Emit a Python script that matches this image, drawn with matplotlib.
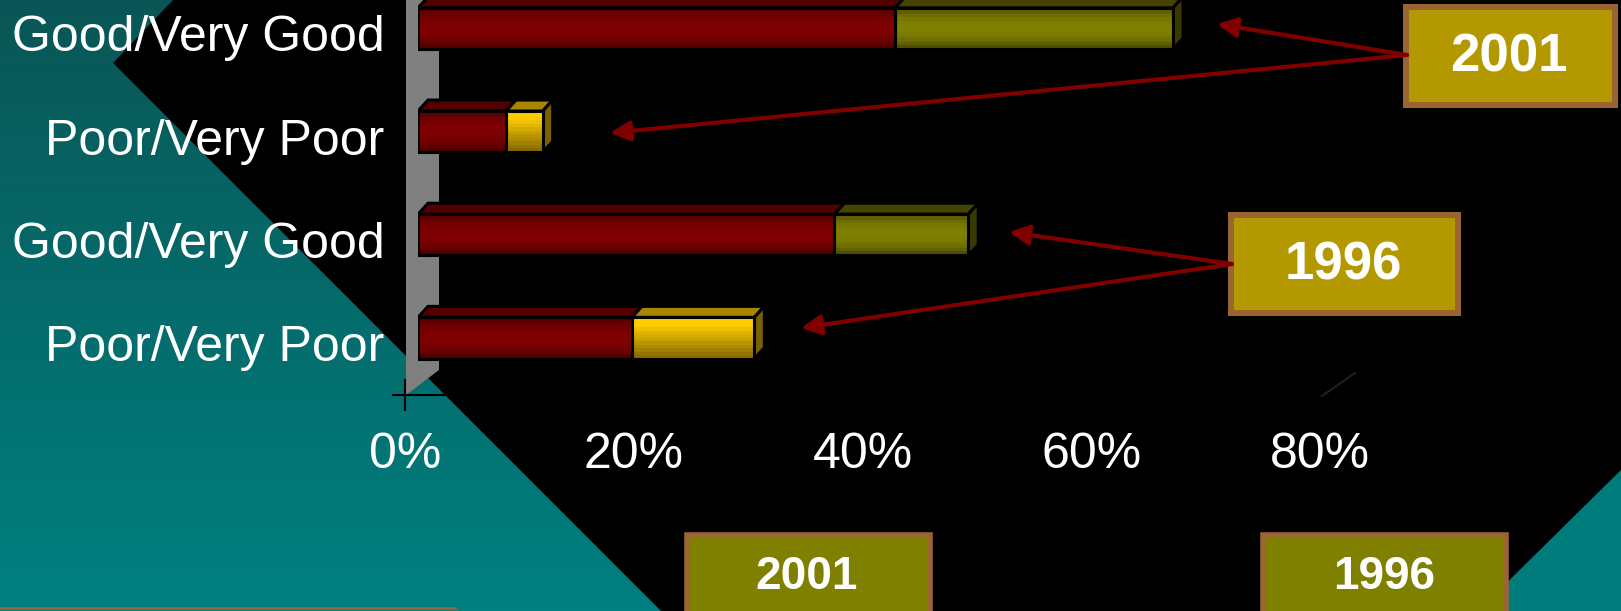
import numpy as np
import matplotlib.pyplot as plt
from matplotlib.patches import Polygon, Rectangle
from matplotlib.colors import to_rgb
from matplotlib.transforms import ScaledTranslation

# bars listed bottom to top
categories = ["Poor/Very Poor", "Good/Very Good", "Poor/Very Poor", "Good/Very Good"]
first_part = [18.7, 36.4, 7.7, 41.7]      # dark red segment (%)
second_part = [10.7, 11.7, 3.2, 24.3]     # yellow / olive segment (%)
second_color = ["#ffcc00", "#808000", "#ffcc00", "#808000"]
xticks = [0, 20, 40, 60, 80]
xlabels = ["0%", "20%", "40%", "60%", "80%"]
years = ["2001", "1996"]

W, H = 1621, 611
plt.rcParams['font.family'] = ['Liberation Sans', 'DejaVu Sans']

fig = plt.figure(figsize=(W / 100, H / 100), dpi=100, facecolor='black')


def shade(c, f):
    return tuple(np.clip(np.array(to_rgb(c)) * f, 0, 1))


# ---- slide background ----
bg = fig.add_axes([0, 0, 1, 1], zorder=0)
bg.add_patch(Rectangle((0, 0), W, H, color='black'))
top_c, bot_c = np.array(to_rgb('#0a5656')), np.array(to_rgb('#008080'))
tt = np.linspace(0, 1, 200)[:, None, None]
grad = top_c * (1 - tt) + bot_c * tt
grad = np.repeat(grad, 2, axis=1)
left_tri = Polygon([(0, 0), (173, 0), (113, 63), (661, 611), (0, 611)],
                   closed=True, fc='none', ec='none')
bg.add_patch(left_tri)
im = bg.imshow(grad, extent=(0, W, H, 0), aspect='auto', zorder=1)
im.set_clip_path(left_tri)
bg.add_patch(Polygon([(W, 470), (W, H), (1478, H)], closed=True,
                     fc='#007c7c', ec='none', zorder=1))
# side wall of the 3d chart
bg.add_patch(Polygon([(406, 0), (439, 0), (439, 370), (406, 395)], closed=True,
                     fc='#808080', ec='none', zorder=2))
bg.plot([393, 447], [395, 395], color='black', lw=1.5, zorder=3)
bg.plot([405, 405], [380, 410], color='black', lw=1.5, zorder=3)
bg.plot([1322, 1355], [396, 373], color='#202020', lw=1.5, zorder=3)
bg.plot([0, 455], [608, 608], color='#996633', lw=2, zorder=3)
bg.set_xlim(0, W)
bg.set_ylim(H, 0)
bg.axis('off')

# ---- bar chart ----
x0_px, px_per_pct = 418, 11.44
xmax = 100
ymin, ymax = -0.6, 3.3
px_per_row = 103.17
ax_h = (ymax - ymin) * px_per_row
ax_top = 28.5 - (ymax - 3) * px_per_row
ax = fig.add_axes([x0_px / W, 1 - (ax_top + ax_h) / H,
                   xmax * px_per_pct / W, ax_h / H], zorder=2)
ax.patch.set_alpha(0)

y = np.arange(len(categories))
h = 0.4
dx = 10 / px_per_pct
dy = 11 / px_per_row
N = 12
t = (np.arange(N) + 0.5) / N


def front_img(c):
    if c == '#ffcc00':
        f = 1 - 0.5 * np.clip((t - 0.2) / 0.8, 0, 1)
    else:
        f = 0.5 + 0.5 * np.sin(np.pi * t) ** 0.7
    return np.array([shade(c, fi) for fi in f])[:, None, :]


top_face = {'#800000': '#520000', '#808000': '#444400', '#ffcc00': '#a88600'}
side_face = {'#808000': '#3a3a00', '#ffcc00': '#7a6000'}

ends = np.array(first_part) + np.array(second_part)
for i in range(len(y)):
    segs = [(0, first_part[i], '#800000'),
            (first_part[i], ends[i], second_color[i])]
    yt, yb = y[i] + h / 2, y[i] - h / 2
    for l, r, c in segs:
        ax.add_patch(Polygon([(l, yt), (r, yt), (r + dx, yt + dy), (l + dx, yt + dy)],
                             closed=True, fc=top_face[c], ec='black', lw=2.2, zorder=2))
        bars = ax.barh([y[i]], [r - l], left=[l], height=h, facecolor='none',
                       edgecolor='black', lw=2.2, zorder=4)
        img = ax.imshow(front_img(c), extent=(l, r, yb, yt), aspect='auto',
                        interpolation='nearest', zorder=3)
        img.set_clip_path(bars.patches[0])
    r = ends[i]
    ax.add_patch(Polygon([(r, yb), (r, yt), (r + dx, yt + dy), (r + dx, yb + dy)],
                         closed=True, fc=side_face[second_color[i]], ec='black',
                         lw=2.2, zorder=2))

ax.set_xlim(0, xmax)
ax.set_ylim(ymin, ymax)
ax.set_xticks(xticks, xlabels)
ax.set_yticks(y, categories)
ax.tick_params(axis='x', length=0, pad=23, labelsize=36, labelcolor='white')
ax.tick_params(axis='y', length=0, pad=24, labelsize=36, labelcolor='white')
for lbl in ax.get_xticklabels():
    lbl.set_transform(lbl.get_transform() + ScaledTranslation(-0.13, 0, fig.dpi_scale_trans))
for lbl in ax.get_yticklabels():
    lbl.set_transform(lbl.get_transform() + ScaledTranslation(0, -0.05, fig.dpi_scale_trans))
for s in ax.spines.values():
    s.set_visible(False)

# ---- callout boxes and arrows ----
ov = fig.add_axes([0, 0, 1, 1], zorder=5)
ov.set_xlim(0, W)
ov.set_ylim(H, 0)
ov.axis('off')
ov.patch.set_alpha(0)

arrow = dict(arrowstyle='-|>', color='#800000', lw=3, mutation_scale=30,
             shrinkA=0, shrinkB=0)
ov.annotate('', xy=(1217, 24), xytext=(1407, 55), arrowprops=arrow)
ov.annotate('', xy=(610, 133), xytext=(1407, 55), arrowprops=arrow)
ov.annotate('', xy=(1009, 232), xytext=(1232, 264), arrowprops=arrow)
ov.annotate('', xy=(801, 328), xytext=(1232, 264), arrowprops=arrow)

ov.add_patch(Rectangle((1406, 7), 209, 98, fc='#b39800', ec='#996633', lw=4.3))
ov.text(1509, 58, years[0], color='white', fontsize=38, fontweight='bold',
        ha='center', va='center')
ov.add_patch(Rectangle((1231, 215), 227, 98, fc='#b39800', ec='#996633', lw=4.3))
ov.text(1343, 266, years[1], color='white', fontsize=38, fontweight='bold',
        ha='center', va='center')

ov.add_patch(Rectangle((687, 535), 243, 90, fc='#808000', ec='#996633', lw=4))
ov.text(807, 577, years[0], color='white', fontsize=33, fontweight='bold',
        ha='center', va='center')
ov.add_patch(Rectangle((1263, 535), 243, 90, fc='#808000', ec='#996633', lw=4))
ov.text(1384, 577, years[1], color='white', fontsize=33, fontweight='bold',
        ha='center', va='center')

fig.savefig('out.png', dpi=100, facecolor='black')
